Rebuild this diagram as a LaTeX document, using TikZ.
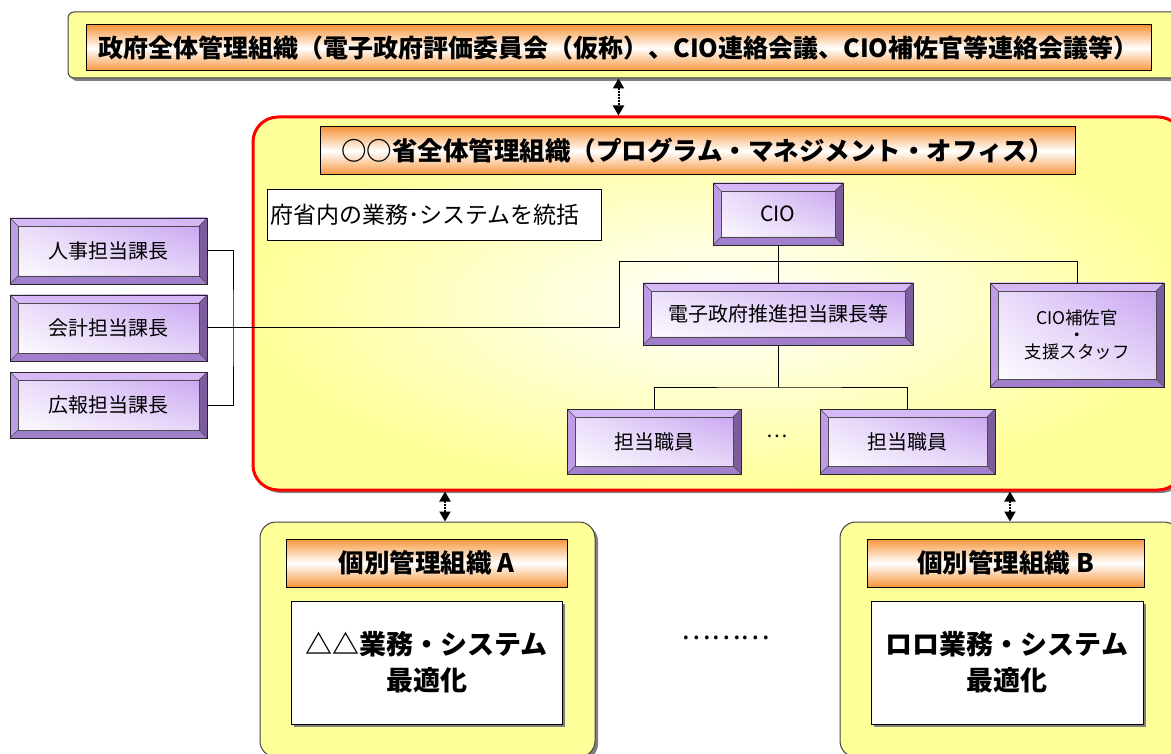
\documentclass[tikz,border=0pt]{standalone}
\usepackage{fontspec}
\setmainfont{Noto Sans CJK JP}
\usetikzlibrary{arrows.meta,shadows,shadings}
\definecolor{ylw}{HTML}{FFFF99}
\definecolor{org}{HTML}{F7963C}
\definecolor{bvT}{HTML}{D6B8F6}
\definecolor{bvL}{HTML}{BE9DE6}
\definecolor{bvB}{HTML}{A27FCC}
\definecolor{bvR}{HTML}{7C5C9C}
\definecolor{faceP}{HTML}{C49EF0}
\definecolor{faceM}{HTML}{EADCFA}
\tikzset{
  fs/.style={font=\fontsize{#1}{#1}\selectfont},
  ybox/.style={draw=black!75, line width=1pt, fill=ylw,
    drop shadow={shadow xshift=3pt,shadow yshift=-3pt,fill=black!50,opacity=1}},
  hdr/.style={draw=black, line width=1pt, top color=org, bottom color=org, middle color=white,
    inner sep=0pt, font=\bfseries\fontsize{25.5}{28}\selectfont},
  wbox/.style={draw=black, line width=0.8pt, fill=white, inner sep=0pt,
    drop shadow={shadow xshift=3pt,shadow yshift=-3pt,fill=black!50,opacity=1}},
  bevel/.style={draw=black!85, line width=0.8pt, inner sep=0pt, align=center,
    font=\fontsize{20}{23}\selectfont,
    upper left=faceM, upper right=faceP, lower left=white, lower right=faceM,
    path picture={
      \fill[bvT] (path picture bounding box.north west) -- (path picture bounding box.north east)
        -- ([xshift=-8pt,yshift=-8pt]path picture bounding box.north east)
        -- ([xshift=8pt,yshift=-8pt]path picture bounding box.north west) -- cycle;
      \fill[bvL] (path picture bounding box.north west) -- (path picture bounding box.south west)
        -- ([xshift=8pt,yshift=8pt]path picture bounding box.south west)
        -- ([xshift=8pt,yshift=-8pt]path picture bounding box.north west) -- cycle;
      \fill[bvB] (path picture bounding box.south west) -- (path picture bounding box.south east)
        -- ([xshift=-8pt,yshift=8pt]path picture bounding box.south east)
        -- ([xshift=8pt,yshift=8pt]path picture bounding box.south west) -- cycle;
      \fill[bvR] (path picture bounding box.north east) -- (path picture bounding box.south east)
        -- ([xshift=-8pt,yshift=8pt]path picture bounding box.south east)
        -- ([xshift=-8pt,yshift=-8pt]path picture bounding box.north east) -- cycle;
      \draw[black!70, line width=0.5pt]
        ([xshift=8pt,yshift=-8pt]path picture bounding box.north west) rectangle
        ([xshift=-8pt,yshift=8pt]path picture bounding box.south east);
      \draw[black!70, line width=0.5pt]
        (path picture bounding box.north west) -- ([xshift=8pt,yshift=-8pt]path picture bounding box.north west)
        (path picture bounding box.north east) -- ([xshift=-8pt,yshift=-8pt]path picture bounding box.north east)
        (path picture bounding box.south west) -- ([xshift=8pt,yshift=8pt]path picture bounding box.south west)
        (path picture bounding box.south east) -- ([xshift=-8pt,yshift=8pt]path picture bounding box.south east);
    }},
  conn/.style={draw=black, line width=1pt},
  arr/.style={draw=black, line width=2pt, densely dotted,
    {Triangle[length=10pt,width=11pt]}-{Triangle[length=10pt,width=11pt]}},
}
\begin{document}
\begin{tikzpicture}[x=1pt,y=-1pt]
\useasboundingbox (0,0) rectangle (1171,754);
\clip (0,0) rectangle (1171,754);

% top
\node[ybox, rounded corners=6pt, minimum width=1117pt, minimum height=66pt] (topouter) at (626.5,45) {};
\node[hdr, minimum width=1065pt, minimum height=46pt, font=\bfseries\fontsize{25}{28}\selectfont] (tophead) at (618.5,48)
  {政府全体管理組織（電子政府評価委員会（仮称）、CIO連絡会議、CIO補佐官等連絡会議等）};

% ministry box
\node[draw=red, line width=3pt, rounded corners=25pt, shading=radial, inner color=white, outer color=ylw,
  drop shadow={shadow xshift=3pt,shadow yshift=-3pt,fill=black!50,opacity=1},
  minimum width=930pt, minimum height=373pt] (redbox) at (718,303.5) {};
\node[hdr, minimum width=755pt, minimum height=48pt] (redhead) at (697.5,151)
  {○○省全体管理組織（プログラム・マネジメント・オフィス）};
\node[draw=black, line width=0.8pt, fill=white, minimum width=334pt, minimum height=51pt,
  text width=328pt, align=left, inner sep=3pt, fs=23] (desc) at (434,214.5) {府省内の業務･システムを統括};

\node[bevel, minimum width=130pt, minimum height=62pt, font=\fontsize{21}{23}\selectfont] (cio) at (778,214) {CIO};
\node[bevel, minimum width=270pt, minimum height=62pt] (denshi) at (778,314) {電子政府推進担当課長等};
\node[bevel, minimum width=174pt, minimum height=104pt, font=\fontsize{17.5}{17}\selectfont] (hosa) at (1077,335)
  {CIO補佐官\\・\\支援スタッフ};
\node[bevel, minimum width=174pt, minimum height=65pt] (t1) at (654,441.5) {担当職員};
\node[bevel, minimum width=175pt, minimum height=65pt] (t2) at (907.5,441.5) {担当職員};
\node[fs=20] (tdots) at (777,436) {…};

% left boxes
\node[bevel, minimum width=197pt, minimum height=66pt] (jinji) at (108.5,251) {人事担当課長};
\node[bevel, minimum width=197pt, minimum height=66pt] (kaikei) at (108.5,328) {会計担当課長};
\node[bevel, minimum width=197pt, minimum height=66pt] (kouhou) at (108.5,405) {広報担当課長};

% connectors
\coordinate (jl) at (233,328);
\coordinate (j1) at (619,262);
\coordinate (j3) at (778,387);
\draw[conn] (jinji.east) -| (jl) |- (kouhou.east);
\draw[conn] (kaikei.east) -| (j1) -| (hosa.north);
\draw[conn] (cio.south) -- (denshi.north);
\draw[conn] (denshi.south) -- (j3);
\draw[conn] (t1.north) |- (j3) -| (t2.north);

% bottom boxes
\node[ybox, rounded corners=16pt, minimum width=335pt, minimum height=235pt] (boxA) at (427.5,639.5) {};
\node[hdr, minimum width=281pt, minimum height=48pt] (hA) at (426.5,563) {個別管理組織 A};
\node[wbox, minimum width=271pt, minimum height=123pt, align=center,
  font=\bfseries\fontsize{27}{36}\selectfont] (wA) at (426.5,662.5) {△△業務・システム\\最適化};

\node[ybox, rounded corners=16pt, minimum width=340pt, minimum height=235pt] (boxB) at (1010,639.5) {};
\node[hdr, minimum width=277pt, minimum height=48pt] (hB) at (1005.5,563) {個別管理組織 B};
\node[wbox, minimum width=272pt, minimum height=123pt, align=center,
  font=\bfseries\fontsize{27}{36}\selectfont] (wB) at (1007,662.5) {ロロ業務・システム\\最適化};

\node[fs=28] (mdots) at (726,638) {………};

% arrows
\coordinate (ax) at (445,500);
\coordinate (bx) at (1010,500);
\draw[arr] (tophead.center |- topouter.south) -- (tophead.center |- redbox.north);
\draw[arr] (redbox.south -| ax) -- (boxA.north -| ax);
\draw[arr] (redbox.south -| bx) -- (boxB.north -| bx);
\end{tikzpicture}
\end{document}
